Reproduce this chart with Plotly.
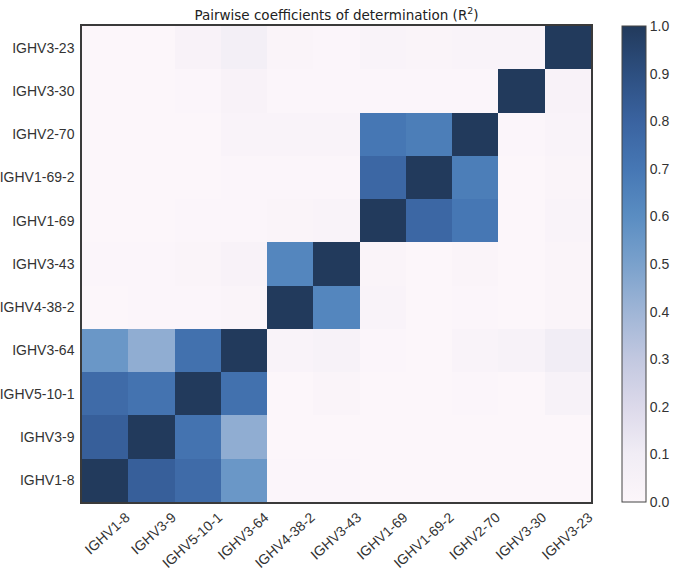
import plotly.graph_objects as go

genes = ["IGHV1-8", "IGHV3-9", "IGHV5-10-1", "IGHV3-64", "IGHV4-38-2", "IGHV3-43",
         "IGHV1-69", "IGHV1-69-2", "IGHV2-70", "IGHV3-30", "IGHV3-23"]

# rows listed bottom (IGHV1-8) to top (IGHV3-23); columns in the same gene order
r2_ighv1_8    = [1.00, 0.82, 0.76, 0.55, 0.01, 0.01, 0.00, 0.00, 0.00, 0.00, 0.00]
r2_ighv3_9    = [0.82, 1.00, 0.72, 0.44, 0.00, 0.00, 0.00, 0.00, 0.00, 0.00, 0.00]
r2_ighv5_10_1 = [0.76, 0.72, 1.00, 0.73, 0.00, 0.02, 0.00, 0.00, 0.01, 0.00, 0.05]
r2_ighv3_64   = [0.55, 0.44, 0.73, 1.00, 0.03, 0.05, 0.01, 0.00, 0.03, 0.05, 0.10]
r2_ighv4_38_2 = [0.00, 0.01, 0.01, 0.02, 1.00, 0.63, 0.03, 0.00, 0.01, 0.00, 0.02]
r2_ighv3_43   = [0.01, 0.01, 0.02, 0.04, 0.63, 1.00, 0.02, 0.00, 0.02, 0.00, 0.02]
r2_ighv1_69   = [0.00, 0.00, 0.01, 0.01, 0.02, 0.03, 1.00, 0.78, 0.70, 0.00, 0.03]
r2_ighv1_69_2 = [0.00, 0.00, 0.00, 0.01, 0.01, 0.01, 0.78, 1.00, 0.67, 0.00, 0.02]
r2_ighv2_70   = [0.00, 0.00, 0.00, 0.03, 0.03, 0.03, 0.70, 0.67, 1.00, 0.01, 0.03]
r2_ighv3_30   = [0.00, 0.00, 0.01, 0.04, 0.01, 0.01, 0.01, 0.01, 0.01, 1.00, 0.04]
r2_ighv3_23   = [0.00, 0.00, 0.04, 0.08, 0.02, 0.01, 0.03, 0.02, 0.03, 0.03, 1.00]

z = [r2_ighv1_8, r2_ighv3_9, r2_ighv5_10_1, r2_ighv3_64, r2_ighv4_38_2, r2_ighv3_43,
     r2_ighv1_69, r2_ighv1_69_2, r2_ighv2_70, r2_ighv3_30, r2_ighv3_23]

colorscale = [
    [0.0, "#fcf6fa"], [0.1, "#f1edf5"], [0.2, "#dcd9ea"], [0.3, "#c2c8e0"],
    [0.4, "#9fb5d6"], [0.5, "#7aa1cc"], [0.6, "#5a8dc2"], [0.7, "#4677b4"],
    [0.8, "#3a63a0"], [0.9, "#2d4f80"], [1.0, "#223a5c"],
]

tickfont = dict(family="Liberation Sans, Arial", size=14, color="#333")

fig = go.Figure(go.Heatmap(
    x=genes, y=genes, z=z, zmin=0, zmax=1, colorscale=colorscale,
    colorbar=dict(
        x=1.061, xanchor="left", xref="paper", y=0.5, yanchor="middle", len=1.0,
        xpad=0, ypad=0,
        thickness=24, outlinewidth=1, outlinecolor="#444",
        tickvals=[i / 10 for i in range(11)], tickformat=".1f", ticks="",
        ticklabelposition="outside", tickfont=tickfont,
    ),
))

fig.update_layout(
    width=675, height=571,
    margin=dict(l=82, r=84, t=26, b=69, autoexpand=False),
    paper_bgcolor="white", plot_bgcolor="white",
    title=dict(text="Pairwise coefficients of determination (R<sup>2</sup>)",
               x=0.5, xref="paper", xanchor="center", y=1, yref="paper", yanchor="bottom",
               pad=dict(b=6),
               font=dict(family="DejaVu Sans", size=13.5, color="#222")),
    xaxis=dict(tickangle=-42, showline=True, linecolor="#3a3a3a", linewidth=1.5, mirror=True,
               ticks="", showgrid=False, ticklabelshift=21, ticklabelstandoff=0,
               tickfont=tickfont),
    yaxis=dict(showline=True, linecolor="#3a3a3a", linewidth=1.5, mirror=True,
               ticks="", showgrid=False, ticklabelstandoff=3,
               tickfont=tickfont),
)

fig.write_html("out.html", config={"displayModeBar": False},
               post_script="document.body.style.margin='0';document.body.style.overflow='hidden';")
